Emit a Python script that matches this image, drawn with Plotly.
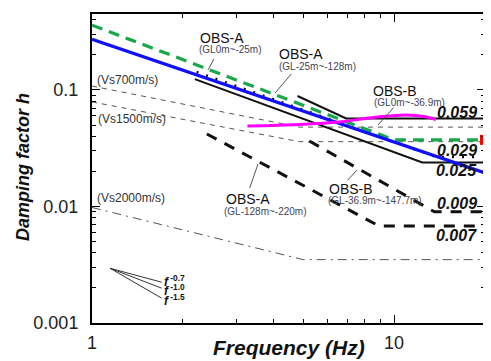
import math
import plotly.graph_objects as go

# ---------------- data ----------------
freq_blue = [1.0, 20.0]
h_blue = [0.272, 0.0194]

freq_green = [1.0, 10.0, 20.0]
h_green = [0.36, 0.0373, 0.0373]

freq_magenta = [3.27, 4.86, 6.58, 8.27, 9.62, 10.96, 12.56, 13.76]
h_magenta = [0.0491, 0.0506, 0.0531, 0.0575, 0.0598, 0.061, 0.0592, 0.0558]

freq_obsA_shallow = [2.19, 12.4, 20.0]          # solid, 0.025
h_obsA_shallow = [0.124, 0.0239, 0.0239]

freq_obsA_dotted = [2.22, 13.8, 19.0]           # dotted, 0.029
h_obsA_dotted = [0.1427, 0.0266, 0.0266]

freq_obsA_mid = [4.79, 6.94, 20.0]              # solid, 0.059
h_obsA_mid = [0.0888, 0.057, 0.057]

freq_vs700 = [1.0, 4.86, 20.0]
h_vs700 = [0.108, 0.048, 0.048]
freq_vs1500 = [1.0, 4.86, 20.0]
h_vs1500 = [0.079, 0.036, 0.036]
freq_vs2000 = [1.0, 5.0, 20.0]
h_vs2000 = [0.0098, 0.0035, 0.0035]

freq_obsA_deep = [2.40, 8.92, 20.0]             # dashed, 0.007
h_obsA_deep = [0.0419, 0.0068, 0.0068]
freq_obsB_deep = [5.24, 13.6, 14.3, 20.0]       # dashed, 0.009
h_obsB_deep = [0.0365, 0.009, 0.009, 0.009]

red_point_f = [20.0]
red_point_h = [0.0373]

slope_exponents = [-0.7, -1.0, -1.5]
slope_labels = ["-0.7", "-1.0", "-1.5"]
slope_f = [1.147, 1.70]
slope_h0 = 0.00295

value_labels = ["0.059", "0.029", "0.025", "0.009", "0.007"]
x_tick_vals = [1, 10]
x_tick_text = ["1", "10"]
y_tick_vals = [0.001, 0.01, 0.1]
y_tick_text = ["0.001", "0.01", "0.1"]
x_minor_vals = [m * 10 ** d for d in range(0, 2) for m in range(2, 10)]
y_minor_vals = [m * 10 ** d for d in range(-3, 0) for m in range(2, 10)]

# ---------------- figure ----------------
FONT = "Arial, Liberation Sans, Helvetica, sans-serif"
PAGE_OFF = 8          # browser's default body margin
W, H = 491 - PAGE_OFF, 361 - PAGE_OFF
fig = go.Figure()


def line(x, y, color, width, dash="solid", shape="linear"):
    fig.add_trace(go.Scatter(x=x, y=y, mode="lines",
                             line=dict(color=color, width=width, dash=dash, shape=shape),
                             hoverinfo="skip", showlegend=False))


line(freq_vs700, h_vs700, "#555555", 1, "5px,5px")
line(freq_vs1500, h_vs1500, "#555555", 1, "5px,5px")
line(freq_vs2000, h_vs2000, "#555555", 1, "9px,5px,2px,5px")
line(freq_obsA_deep, h_obsA_deep, "#111111", 3, "11px,9px")
line(freq_obsB_deep, h_obsB_deep, "#111111", 3, "11px,9px")
line(freq_obsA_mid, h_obsA_mid, "#111111", 2)
line(freq_obsA_shallow, h_obsA_shallow, "#111111", 2)
line(freq_obsA_dotted, h_obsA_dotted, "#111111", 2.5, "2px,8px")
line(freq_green, h_green, "#17a84a", 3.2, "11px,7px")
line(freq_blue, h_blue, "#1010ff", 3.2)
line(freq_magenta, h_magenta, "#ff00ff", 3, shape="spline")

for e in slope_exponents:
    line(slope_f, [slope_h0 * (f / slope_f[0]) ** e for f in slope_f], "#333333", 1)

fig.add_trace(go.Scatter(x=red_point_f, y=red_point_h, mode="markers",
                         marker=dict(color="#ff0000", size=10, symbol="square"),
                         cliponaxis=False, hoverinfo="skip", showlegend=False))

# invisible trace that carries the overlay axes used for the longer major ticks
fig.add_trace(go.Scatter(x=[1], y=[0.01], xaxis="x2", yaxis="y2", mode="markers",
                         marker=dict(opacity=0), hoverinfo="skip", showlegend=False))

# ---------------- annotations (positions given in page pixels) ----------------
PX0, PX1, PY0, PY1 = 92, 485, 14, 323
XR = (0.0, math.log10(20))
YR = (-3.0, -0.348)


def px2x(px):
    return XR[0] + (px - PX0) / (PX1 - PX0) * (XR[1] - XR[0])


def py2y(py):
    return YR[1] - (py - PY0) / (PY1 - PY0) * (YR[1] - YR[0])


def text(px, py, s, size, color="#111111", xanchor="left", bold=False, italic=False):
    if bold:
        s = "<b>" + s + "</b>"
    if italic:
        s = "<i>" + s + "</i>"
    fig.add_annotation(x=px2x(px), y=py2y(py), xref="x", yref="y", text=s,
                       showarrow=False, xanchor=xanchor, yanchor="middle",
                       font=dict(family=FONT, size=size, color=color))


def pointer(tx, ty, ax, ay):
    fig.add_annotation(x=px2x(tx), y=py2y(ty), xref="x", yref="y", text=" ",
                       showarrow=True, arrowhead=0, arrowwidth=1,
                       arrowcolor="#555555", ax=ax, ay=ay, standoff=0,
                       font=dict(size=1))


text(198, 38, "OBS-A", 14)
text(197, 49, "(GL0m~-25m)", 10, "#444455")
pointer(208, 70, 7, -13)

text(277, 54, "OBS-A", 14)
text(277, 66, "(GL-25m~-128m)", 10, "#444455")
pointer(275, 93, 18, -21)

text(371, 91, "OBS-B", 14)
text(372, 102, "(GL0m~-36.9m)", 10, "#444455")
pointer(378, 125, 17, -19)

text(224, 199, "OBS-A", 14)
text(222, 211, "(GL-128m~-220m)", 10, "#444455")
pointer(258, 164, -9, 26)

text(327, 189, "OBS-B", 14)
text(326, 200, "(GL-36.9m~-147.7m)", 10, "#444455")
pointer(357, 170, -11, 12)

text(95, 80, "(Vs700m/s)", 12, "#333333")
text(96, 119, "(Vs1500m/s)", 12, "#333333")
text(95, 198, "(Vs2000m/s)", 12, "#333333")

for lab, py in zip(value_labels, [112, 150, 170, 203, 235]):
    text(479, py, lab, 16, "#111111", xanchor="right", bold=True, italic=True)

for lab, py in zip(slope_labels, [281, 290, 300]):
    fig.add_annotation(x=px2x(162), y=py2y(py), xref="x", yref="y",
                       text="<b><i>f</i></b><sup><b> " + lab + "</b></sup>",
                       showarrow=False, xanchor="left", yanchor="middle",
                       font=dict(family=FONT, size=12, color="#111111"))

fig.add_annotation(xref="paper", yref="paper",
                   x=(23 - PX0) / (PX1 - PX0), y=(PY1 - 167) / (PY1 - PY0),
                   text="<b><i>Damping factor h</i></b>", textangle=-90,
                   showarrow=False, xanchor="center", yanchor="middle",
                   font=dict(family=FONT, size=18, color="#111111"))
fig.add_annotation(xref="paper", yref="paper",
                   x=(289 - PX0) / (PX1 - PX0), y=(PY1 - 347) / (PY1 - PY0),
                   text="<b><i>Frequency (Hz)</i></b>",
                   showarrow=False, xanchor="center", yanchor="middle",
                   font=dict(family=FONT, size=21, color="#111111"))

# main axes: all ticks short, labels only on decades
axis_common = dict(type="log", showgrid=False, zeroline=False, automargin=False,
                   showline=True, linecolor="#000000", linewidth=2, mirror="allticks",
                   ticks="inside", ticklen=4, tickwidth=1, tickcolor="#000000",
                   tickmode="array",
                   tickfont=dict(family=FONT, size=18, color="#222222"))

fig.update_layout(
    xaxis=dict(range=list(XR), tickvals=x_tick_vals + x_minor_vals,
               ticktext=x_tick_text + [""] * len(x_minor_vals),
               ticklabelstandoff=2, **axis_common),
    yaxis=dict(range=list(YR), tickvals=y_tick_vals + y_minor_vals,
               ticktext=y_tick_text + [""] * len(y_minor_vals),
               ticklabelstandoff=8, **axis_common),
    # overlay axes: only the longer decade ticks
    xaxis2=dict(type="log", range=list(XR), overlaying="x", side="bottom",
                anchor="y2", showgrid=False, zeroline=False, showline=False,
                ticks="inside", ticklen=8, tickwidth=1, tickcolor="#000000",
                tickmode="array", tickvals=x_tick_vals, showticklabels=False,
                mirror="allticks", automargin=False),
    yaxis2=dict(type="log", range=list(YR), overlaying="y", side="left",
                anchor="x2", showgrid=False, zeroline=False, showline=False,
                ticks="inside", ticklen=8, tickwidth=1, tickcolor="#000000",
                tickmode="array", tickvals=y_tick_vals, showticklabels=False,
                mirror="allticks", automargin=False),
    width=W, height=H,
    margin=dict(l=PX0 - PAGE_OFF, r=491 - PX1, t=PY0 - PAGE_OFF, b=361 - PY1),
    paper_bgcolor="white", plot_bgcolor="white",
)

fig.write_html("out.html")
